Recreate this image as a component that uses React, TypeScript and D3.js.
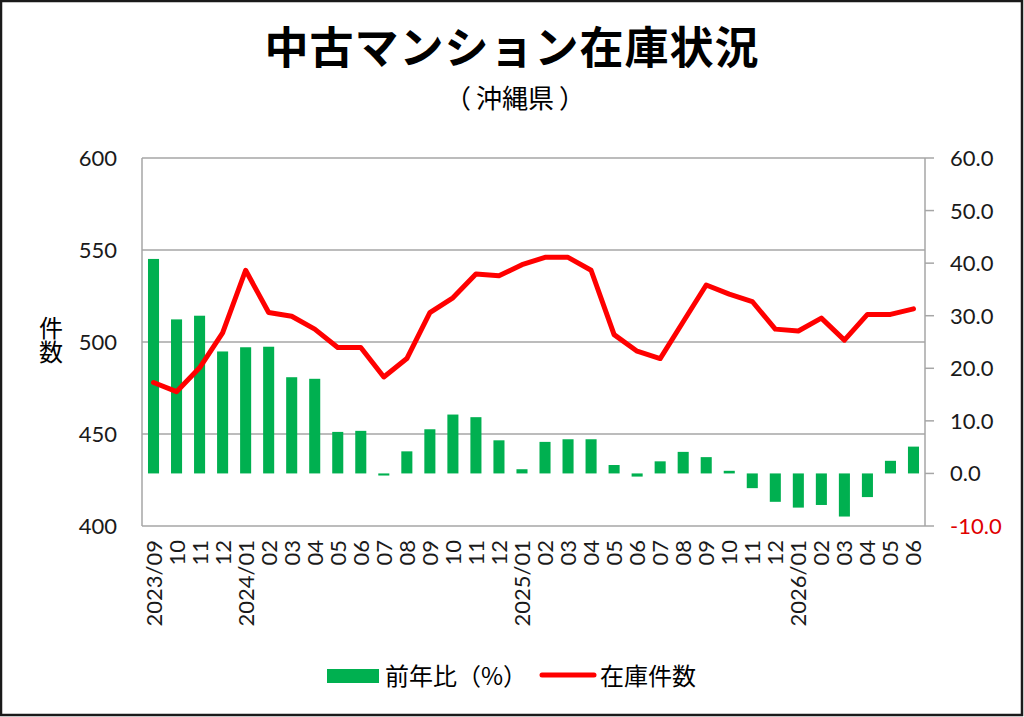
import React from "react";
import * as d3 from "d3";

// months shown on the x axis
const months = [
  "2023/09", "10", "11", "12",
  "2024/01", "02", "03", "04", "05", "06", "07", "08", "09", "10", "11", "12",
  "2025/01", "02", "03", "04", "05", "06", "07", "08", "09", "10", "11", "12",
  "2026/01", "02", "03", "04", "05", "06",
];

// 在庫件数 (left axis)
const stock = [
  478, 473, 486, 505, 539, 516, 514, 507, 497, 497, 481, 491, 516, 524, 537, 536,
  542, 546, 546, 539, 504, 495, 491, 511, 531, 526, 522, 507, 506, 513, 501, 515, 515, 518,
];

// 前年比(%) (right axis)
const yoy = [
  40.8, 29.3, 30.0, 23.2, 24.0, 24.1, 18.3, 18.0, 7.9, 8.1, -0.4, 4.2, 8.4, 11.2, 10.7, 6.3,
  0.8, 6.0, 6.5, 6.5, 1.6, -0.6, 2.3, 4.1, 3.1, 0.5, -2.8, -5.4, -6.5, -6.0, -8.2, -4.5, 2.4, 5.1,
];

const leftTicks = [400, 450, 500, 550, 600];
const rightTicks = [-10, 0, 10, 20, 30, 40, 50, 60];

const W = 1024;
const H = 717;
const margin = { left: 142, right: 99, top: 158, bottom: 191 };

const App = () => {
  const x = d3
    .scaleBand<number>()
    .domain(months.map((_, i) => i))
    .range([margin.left, W - margin.right])
    .padding(0);
  const yL = d3.scaleLinear().domain([400, 600]).range([H - margin.bottom, margin.top]);
  const yR = d3.scaleLinear().domain([-10, 60]).range([H - margin.bottom, margin.top]);

  const barW = x.bandwidth() * 0.48;
  const cx = (i: number) => (x(i) as number) + x.bandwidth() / 2;

  const line = d3
    .line<number>()
    .x((_, i) => cx(i))
    .y((d) => yL(d));

  const jp = "'Noto Sans CJK JP', sans-serif";
  const num = "Lato, 'Noto Sans', sans-serif";
  const plotL = margin.left;
  const plotR = W - margin.right;
  const plotT = margin.top;
  const plotB = H - margin.bottom;

  return (
    <svg width={W} height={H} style={{ position: "absolute", left: 0, top: 0 }}>
      <rect x={1} y={1} width={W - 3} height={H - 3} fill="#fff" stroke="#1a1a1a" strokeWidth={2.5} />

      <text x={512} y={64} textAnchor="middle" fontFamily={jp} fontWeight="bold" fontSize={44} letterSpacing={1}>
        中古マンション在庫状況
      </text>
      <text x={515} y={108} textAnchor="middle" fontFamily={jp} fontSize={26}>
        <tspan>（</tspan>
        <tspan dx={5}>沖縄県</tspan>
        <tspan dx={5}>）</tspan>
      </text>

      {/* grid + frame */}
      {leftTicks.map((t) => (
        <line key={t} x1={plotL} x2={plotR} y1={yL(t)} y2={yL(t)} stroke="#a6a6a6" strokeWidth={1.5} />
      ))}
      <line x1={plotL} x2={plotL} y1={plotT} y2={plotB} stroke="#a6a6a6" strokeWidth={1.5} />
      <line x1={plotR} x2={plotR} y1={plotT} y2={plotB} stroke="#a6a6a6" strokeWidth={1.5} />
      {rightTicks.map((t) => (
        <line key={t} x1={plotR} x2={plotR + 9} y1={yR(t)} y2={yR(t)} stroke="#a6a6a6" strokeWidth={1.5} />
      ))}

      {/* bars */}
      {yoy.map((v, i) => (
        <rect
          key={i}
          x={cx(i) - barW / 2}
          y={Math.min(yR(v), yR(0))}
          width={barW}
          height={Math.abs(yR(v) - yR(0))}
          fill="#00b050"
        />
      ))}

      {/* stock line */}
      <path d={line(stock) as string} fill="none" stroke="#ff0000" strokeWidth={5} strokeLinejoin="round" strokeLinecap="round" />

      {/* left axis labels */}
      {leftTicks.map((t) => (
        <text key={t} x={117} y={yL(t) + 8} textAnchor="end" fontFamily={num} fontSize={22} fill="#1a1a1a">
          {t}
        </text>
      ))}
      <text x={51} y={316} fontFamily={jp} fontSize={24} style={{ writingMode: "vertical-rl" }}>
        件数
      </text>

      {/* right axis labels */}
      {rightTicks.map((t) => (
        <text key={t} x={950} y={yR(t) + 8} fontFamily={num} fontSize={22} fill={t < 0 ? "#e00000" : "#1a1a1a"}>
          {t.toFixed(1)}
        </text>
      ))}

      {/* x labels */}
      {months.map((m, i) => (
        <text
          key={i}
          transform={`translate(${cx(i) + 8},${plotB + 14}) rotate(-90)`}
          textAnchor="end"
          fontFamily={num}
          fontSize={22}
          fill="#1a1a1a"
        >
          {m}
        </text>
      ))}

      {/* legend */}
      <rect x={327} y={669} width={52} height={14} fill="#00b050" />
      <text x={385} y={685} fontFamily={jp} fontSize={24}>前年比（%）</text>
      <line x1={542} x2={594} y1={675} y2={675} stroke="#ff0000" strokeWidth={5} strokeLinecap="round" />
      <text x={600} y={685} fontFamily={jp} fontSize={24}>在庫件数</text>
    </svg>
  );
};

export default App;
